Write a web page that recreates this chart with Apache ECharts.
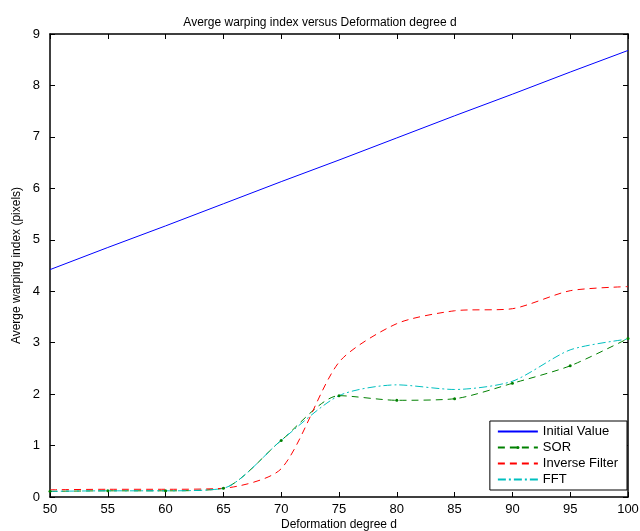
<!DOCTYPE html>
<html><head><meta charset="utf-8">
<script src="https://cdn.jsdelivr.net/npm/echarts@6/dist/echarts.min.js"></script>
<style>html,body{margin:0;padding:0;background:#fff}#c{width:640px;height:531px}</style>
</head><body><div id="c"></div>
<script>
const degrees = [50, 55, 60, 65, 70, 75, 80, 85, 90, 95, 100];
const initialValue = [4.42, 4.85, 5.27, 5.70, 6.13, 6.55, 6.98, 7.41, 7.83, 8.26, 8.68];
const sor = [0.11, 0.12, 0.12, 0.17, 1.10, 1.97, 1.88, 1.91, 2.21, 2.55, 3.08];
const inverseFilter = [0.14, 0.15, 0.15, 0.17, 0.55, 2.62, 3.37, 3.62, 3.66, 4.01, 4.09];
const fft = [0.11, 0.12, 0.12, 0.17, 1.10, 1.97, 2.18, 2.09, 2.25, 2.86, 3.07];
const xTicks = [50, 100, 5];
const yTicks = [0, 9, 1];

const pair = arr => degrees.map((d, i) => [d, arr[i]]);
const font = 'Liberation Sans, Arial, sans-serif';
const chart = echarts.init(document.getElementById('c'));
const baseAxis = {
  axisLine: { show: true, onZero: false, lineStyle: { color: '#000', width: 1.5 } },
  axisTick: { show: true, inside: true, length: 5, lineStyle: { color: '#000' } },
  splitLine: { show: false },
  axisLabel: { color: '#000', fontFamily: font, fontSize: 13 }
};
const hidden = { itemStyle: { opacity: 0 } };
chart.setOption({
  animation: false,
  title: { text: 'Averge warping index versus Deformation degree d', left: 'center', top: 12,
    textStyle: { fontFamily: font, fontSize: 12, fontWeight: 'normal', color: '#000' } },
  grid: { left: 50, right: 12, top: 34, bottom: 34, outerBoundsMode: 'none', containLabel: false },
  legend: {
    orient: 'vertical', right: 13, bottom: 41, itemWidth: 40, itemHeight: 4, itemGap: 3,
    backgroundColor: '#fff', borderColor: '#000', borderWidth: 1, padding: [4, 9, 4, 7],
    textStyle: { fontFamily: font, fontSize: 13, color: '#000', lineHeight: 13 }, selectedMode: false,
    data: [
      Object.assign({ name: 'Initial Value' }, hidden),
      { name: 'SOR' },
      Object.assign({ name: 'Inverse Filter' }, hidden),
      Object.assign({ name: 'FFT' }, hidden)
    ]
  },
  xAxis: [
    Object.assign({}, baseAxis, { type: 'value', min: xTicks[0], max: xTicks[1], interval: xTicks[2],
      name: 'Deformation degree d', nameLocation: 'middle', nameGap: 22, nameMoveOverlap: false,
      nameTextStyle: { fontFamily: font, fontSize: 12, color: '#000' },
      axisLabel: Object.assign({}, baseAxis.axisLabel, { margin: 6 }) }),
    Object.assign({}, baseAxis, { type: 'value', position: 'top', min: xTicks[0], max: xTicks[1], interval: xTicks[2],
      axisLabel: { show: false } })
  ],
  yAxis: [
    Object.assign({}, baseAxis, { type: 'value', min: yTicks[0], max: yTicks[1], interval: yTicks[2],
      name: 'Averge warping index (pixels)', nameLocation: 'middle', nameGap: 27, nameMoveOverlap: false,
      nameTextStyle: { fontFamily: font, fontSize: 12, color: '#000' },
      axisLabel: Object.assign({}, baseAxis.axisLabel, { margin: 10 }) }),
    Object.assign({}, baseAxis, { type: 'value', position: 'right', min: yTicks[0], max: yTicks[1], interval: yTicks[2],
      axisLabel: { show: false } })
  ],
  series: [
    { name: 'Initial Value', type: 'line', data: pair(initialValue), symbol: 'none',
      itemStyle: { color: '#0000ff' }, lineStyle: { color: '#0000ff', width: 1 } },
    { name: 'SOR', type: 'line', data: pair(sor), symbol: 'circle', symbolSize: 3, smooth: 0.25,
      itemStyle: { color: '#008000' }, lineStyle: { color: '#008000', width: 1, type: [7, 5] } },
    { name: 'Inverse Filter', type: 'line', data: pair(inverseFilter), symbol: 'none', smooth: 0.25,
      itemStyle: { color: '#ff0000' }, lineStyle: { color: '#ff0000', width: 1, type: [7, 5] } },
    { name: 'FFT', type: 'line', data: pair(fft), symbol: 'none', smooth: 0.25,
      itemStyle: { color: '#00bfbf' }, lineStyle: { color: '#00bfbf', width: 1, type: [8, 3, 2, 3] } }
  ]
});
</script></body></html>
